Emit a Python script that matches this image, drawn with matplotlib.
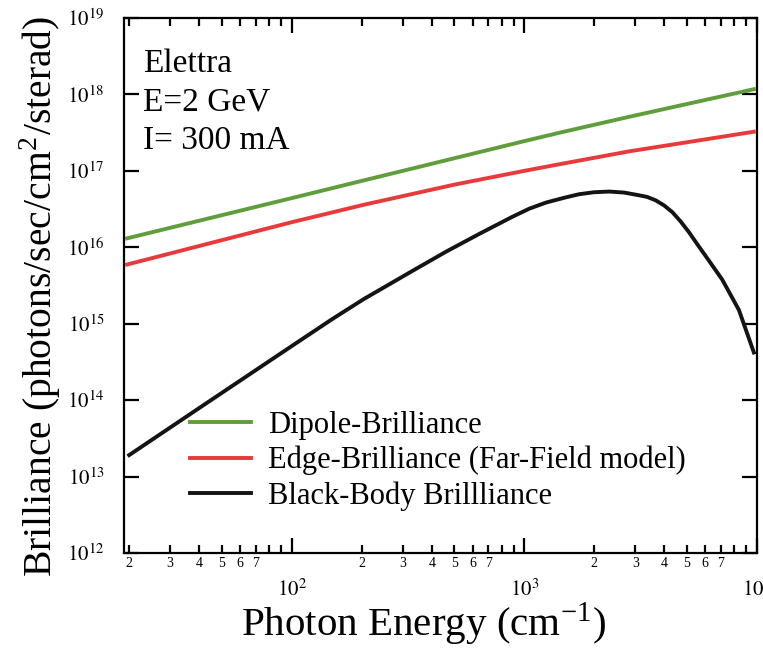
import numpy as np
import matplotlib
matplotlib.use("Agg")
import matplotlib.pyplot as plt
from matplotlib.ticker import LogLocator, FuncFormatter

plt.rcParams['font.family'] = ['Liberation Serif', 'DejaVu Serif']
plt.rcParams['mathtext.fontset'] = 'stix'

# values (photon energy in cm^-1, brilliance)
dip_x = [19.6, 100, 204, 1000, 1413, 2825, 9700]
dip_y = [1.31e16, 4.4e16, 7.5e16, 2.45e17, 3.15e17, 5.1e17, 1.17e18]

edge_x = [19.6, 100, 204, 500, 1000, 1413, 2825, 9700]
edge_y = [5.95e15, 2.13e16, 3.6e16, 6.6e16, 1.0e17, 1.22e17, 1.8e17, 3.25e17]

bb_x = [20, 40.3, 100, 150, 204, 330, 462, 641, 887, 1050, 1241,
        1486, 1722, 1995, 2317, 2685, 3116, 3373, 3675, 3990, 4330,
        4705, 5108, 5527, 6025, 7097, 8371, 9705]
bb_y = [1.91e13, 8.0e13, 5.1e14, 1.16e15, 2.1e15, 4.9e15, 8.8e15,
        1.5e16, 2.5e16, 3.2e16, 3.85e16, 4.45e16, 4.95e16, 5.25e16,
        5.36e16, 5.2e16, 4.79e16, 4.56e16, 4.11e16, 3.53e16, 2.88e16,
        2.17e16, 1.57e16, 1.11e16, 7.67e15, 3.77e15, 1.51e15, 4.2e14]

labels = ['Dipole-Brilliance', 'Edge-Brilliance (Far-Field model)',
          'Black-Body Brillliance']
info = ['Elettra', 'E=2 GeV', 'I= 300 mA']

fig = plt.figure(figsize=(7.63, 6.57), dpi=100)
ax = fig.add_axes([0.1625, 0.1583, 0.8295, 0.8143])

ax.plot(dip_x, dip_y, color='#5f9e3a', lw=2.8, label=labels[0])
ax.plot(edge_x, edge_y, color='#e83a3a', lw=2.8, label=labels[1])
ax.plot(bb_x, bb_y, color='#141414', lw=2.8, label=labels[2])

ax.set_xscale('log')
ax.set_yscale('log')
ax.set_xlim(19, 1e4)
ax.set_ylim(1e12, 1e19)

for s in ax.spines.values():
    s.set_linewidth(1.6)

ax.yaxis.set_major_locator(LogLocator(base=10, numticks=20))
ax.yaxis.set_minor_locator(LogLocator(base=10, subs=[], numticks=20))
ax.yaxis.set_major_formatter(FuncFormatter(lambda v, p: r'$10^{%d}$' % round(np.log10(v))))

ax.xaxis.set_major_locator(LogLocator(base=10, numticks=20))
ax.xaxis.set_minor_locator(LogLocator(base=10, subs=np.arange(2, 10), numticks=20))
ax.xaxis.set_major_formatter(FuncFormatter(lambda v, p: r'$10^{%d}$' % round(np.log10(v))))


def minor_lab(v, p):
    d = int(round(v / 10 ** np.floor(np.log10(v) + 1e-9)))
    return str(d) if d <= 7 else ''


ax.xaxis.set_minor_formatter(FuncFormatter(minor_lab))

ax.tick_params(which='both', direction='in', top=True, right=True, width=1.6)
ax.tick_params(axis='y', which='major', length=11, labelsize=15, pad=14)
ax.tick_params(axis='x', which='major', length=11, labelsize=15, pad=19)
ax.tick_params(axis='x', which='minor', length=5.5, labelsize=10, pad=3)

ax.set_xlabel(r'Photon Energy (cm$^{\mathregular{-1}}$)', fontsize=29.5, labelpad=0)
ax.xaxis.label.set_x(0.474)
ax.set_ylabel(r'Brilliance (photons/sec/cm$^{\mathregular{2}}$/sterad)', fontsize=28.5, labelpad=3)
ax.yaxis.label.set_y(0.48)

for i, t in enumerate(info):
    ax.text(0.03, 0.9 - i * 0.072, t, transform=ax.transAxes, fontsize=24,
            va='baseline', ha='left')

ax.legend(loc='upper left', bbox_to_anchor=(0.104, 0.266), frameon=False,
          fontsize=22, handlelength=2.0, handletextpad=0.55, labelspacing=0.2,
          borderpad=0, borderaxespad=0)

fig.savefig('out.png', dpi=100)
